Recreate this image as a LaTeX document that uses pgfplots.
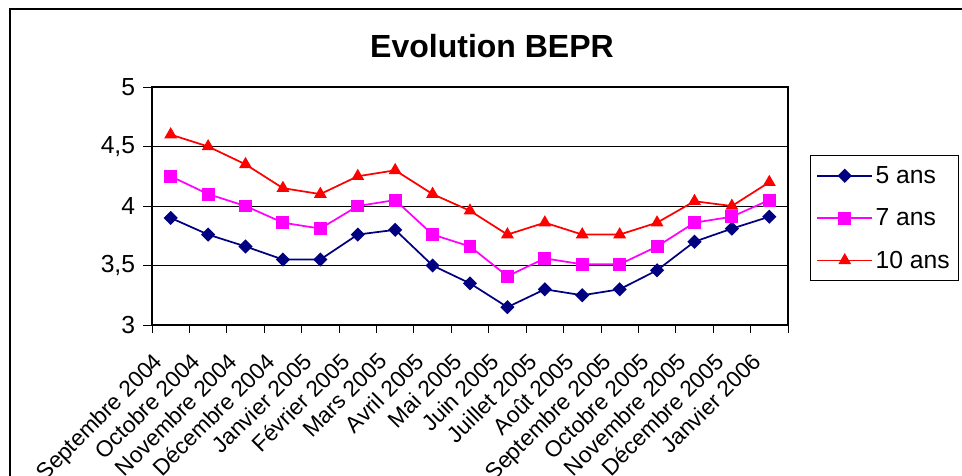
\documentclass[border=0pt]{standalone}
\usepackage{pgfplots}
\pgfplotsset{compat=1.18}
\usepackage{pgfplotstable}
\usepackage{fontspec}
\setmainfont{Liberation Sans}

\definecolor{serie5}{RGB}{0,0,128}
\definecolor{serie7}{RGB}{255,0,255}
\definecolor{serie10}{RGB}{255,0,0}

% BEPR rates by maturity, Sept 2004 - Jan 2006
\pgfplotstableread{
idx v5   v7   v10
0   3.90 4.25 4.60
1   3.76 4.10 4.50
2   3.66 4.00 4.35
3   3.55 3.86 4.15
4   3.55 3.81 4.10
5   3.76 4.00 4.25
6   3.80 4.05 4.30
7   3.50 3.76 4.10
8   3.35 3.66 3.96
9   3.15 3.41 3.76
10  3.30 3.56 3.86
11  3.25 3.51 3.76
12  3.30 3.51 3.76
13  3.46 3.66 3.86
14  3.70 3.86 4.04
15  3.81 3.91 4.00
16  3.91 4.05 4.20
}\bepr

\begin{document}
\begin{tikzpicture}
\path[use as bounding box] (0,0) rectangle (721.5pt,356.25pt);
\clip (0,0) rectangle (721.5pt,356.25pt);
% outer chart frame
\draw[black, line width=0.8pt] (7.5pt,349.5pt) rectangle (760pt,-40pt);
\begin{axis}[
  at={(114pt,112.5pt)}, anchor=south west,
  scale only axis, width=477pt, height=178.5pt,
  xmin=-0.5, xmax=16.5, ymin=3, ymax=5,
  xtick={0,...,16},
  xticklabels={Septembre 2004,Octobre 2004,Novembre 2004,Décembre 2004,Janvier 2005,Février 2005,Mars 2005,Avril 2005,Mai 2005,Juin 2005,Juillet 2005,Août 2005,Septembre 2005,Octobre 2005,Novembre 2005,Décembre 2005,Janvier 2006},
  minor xtick={-0.5,0.5,...,16.5},
  major x tick style={draw=none},
  ytick={3,3.5,4,4.5,5},
  tick pos=left,
  tick align=outside,
  major tick length=6.5pt, minor tick length=6pt,
  tick style={black, line width=0.6pt},
  ymajorgrids, major grid style={black, line width=0.6pt},
  axis line style={black, line width=1pt},
  /pgf/number format/.cd, use comma, assume math mode=true, /pgfplots/.cd,
  ticklabel style={font=\fontsize{18.5}{21}\selectfont},
  xticklabel style={rotate=45, anchor=north east, inner sep=1pt, xshift=-18pt, yshift=1.5pt, font=\fontsize{17}{20}\selectfont},
  yticklabel style={inner sep=2pt, xshift=-4pt},
  title={Evolution BEPR},
  title style={at={(0.5346,1.09)}, anchor=base, font=\fontsize{24}{28}\selectfont\bfseries},
  legend style={at={(1.0346,0.714)}, anchor=north west, draw=black, line width=0.8pt,
    font=\fontsize{18.5}{21}\selectfont, row sep=13.5pt, inner xsep=4.5pt, inner ysep=6pt,
    nodes={inner sep=2pt}, /tikz/every even column/.append style={column sep=5.5pt}},
  legend cell align=left,
  legend image code/.code={\draw[mark repeat=2,mark phase=2,#1] plot coordinates {(0pt,0pt) (20.5pt,0pt) (41pt,0pt)};},
]
\addplot[serie5, line width=1.3pt, mark=square*, mark size=3.1pt, mark options={rotate=45, solid}] table[x=idx, y=v5] {\bepr};
\addlegendentry{5 ans}
\addplot[serie7, line width=1.3pt, mark=square*, mark size=4.2pt, mark options={solid}] table[x=idx, y=v7] {\bepr};
\addlegendentry{7 ans}
\addplot[serie10, line width=1.3pt, mark=triangle*, mark size=4.3pt, mark options={solid}] table[x=idx, y=v10] {\bepr};
\addlegendentry{10 ans}
\draw[black, line width=1.6pt] (rel axis cs:0,1) -- (rel axis cs:0,0) -- (rel axis cs:1,0);
\end{axis}
\end{tikzpicture}
\end{document}
